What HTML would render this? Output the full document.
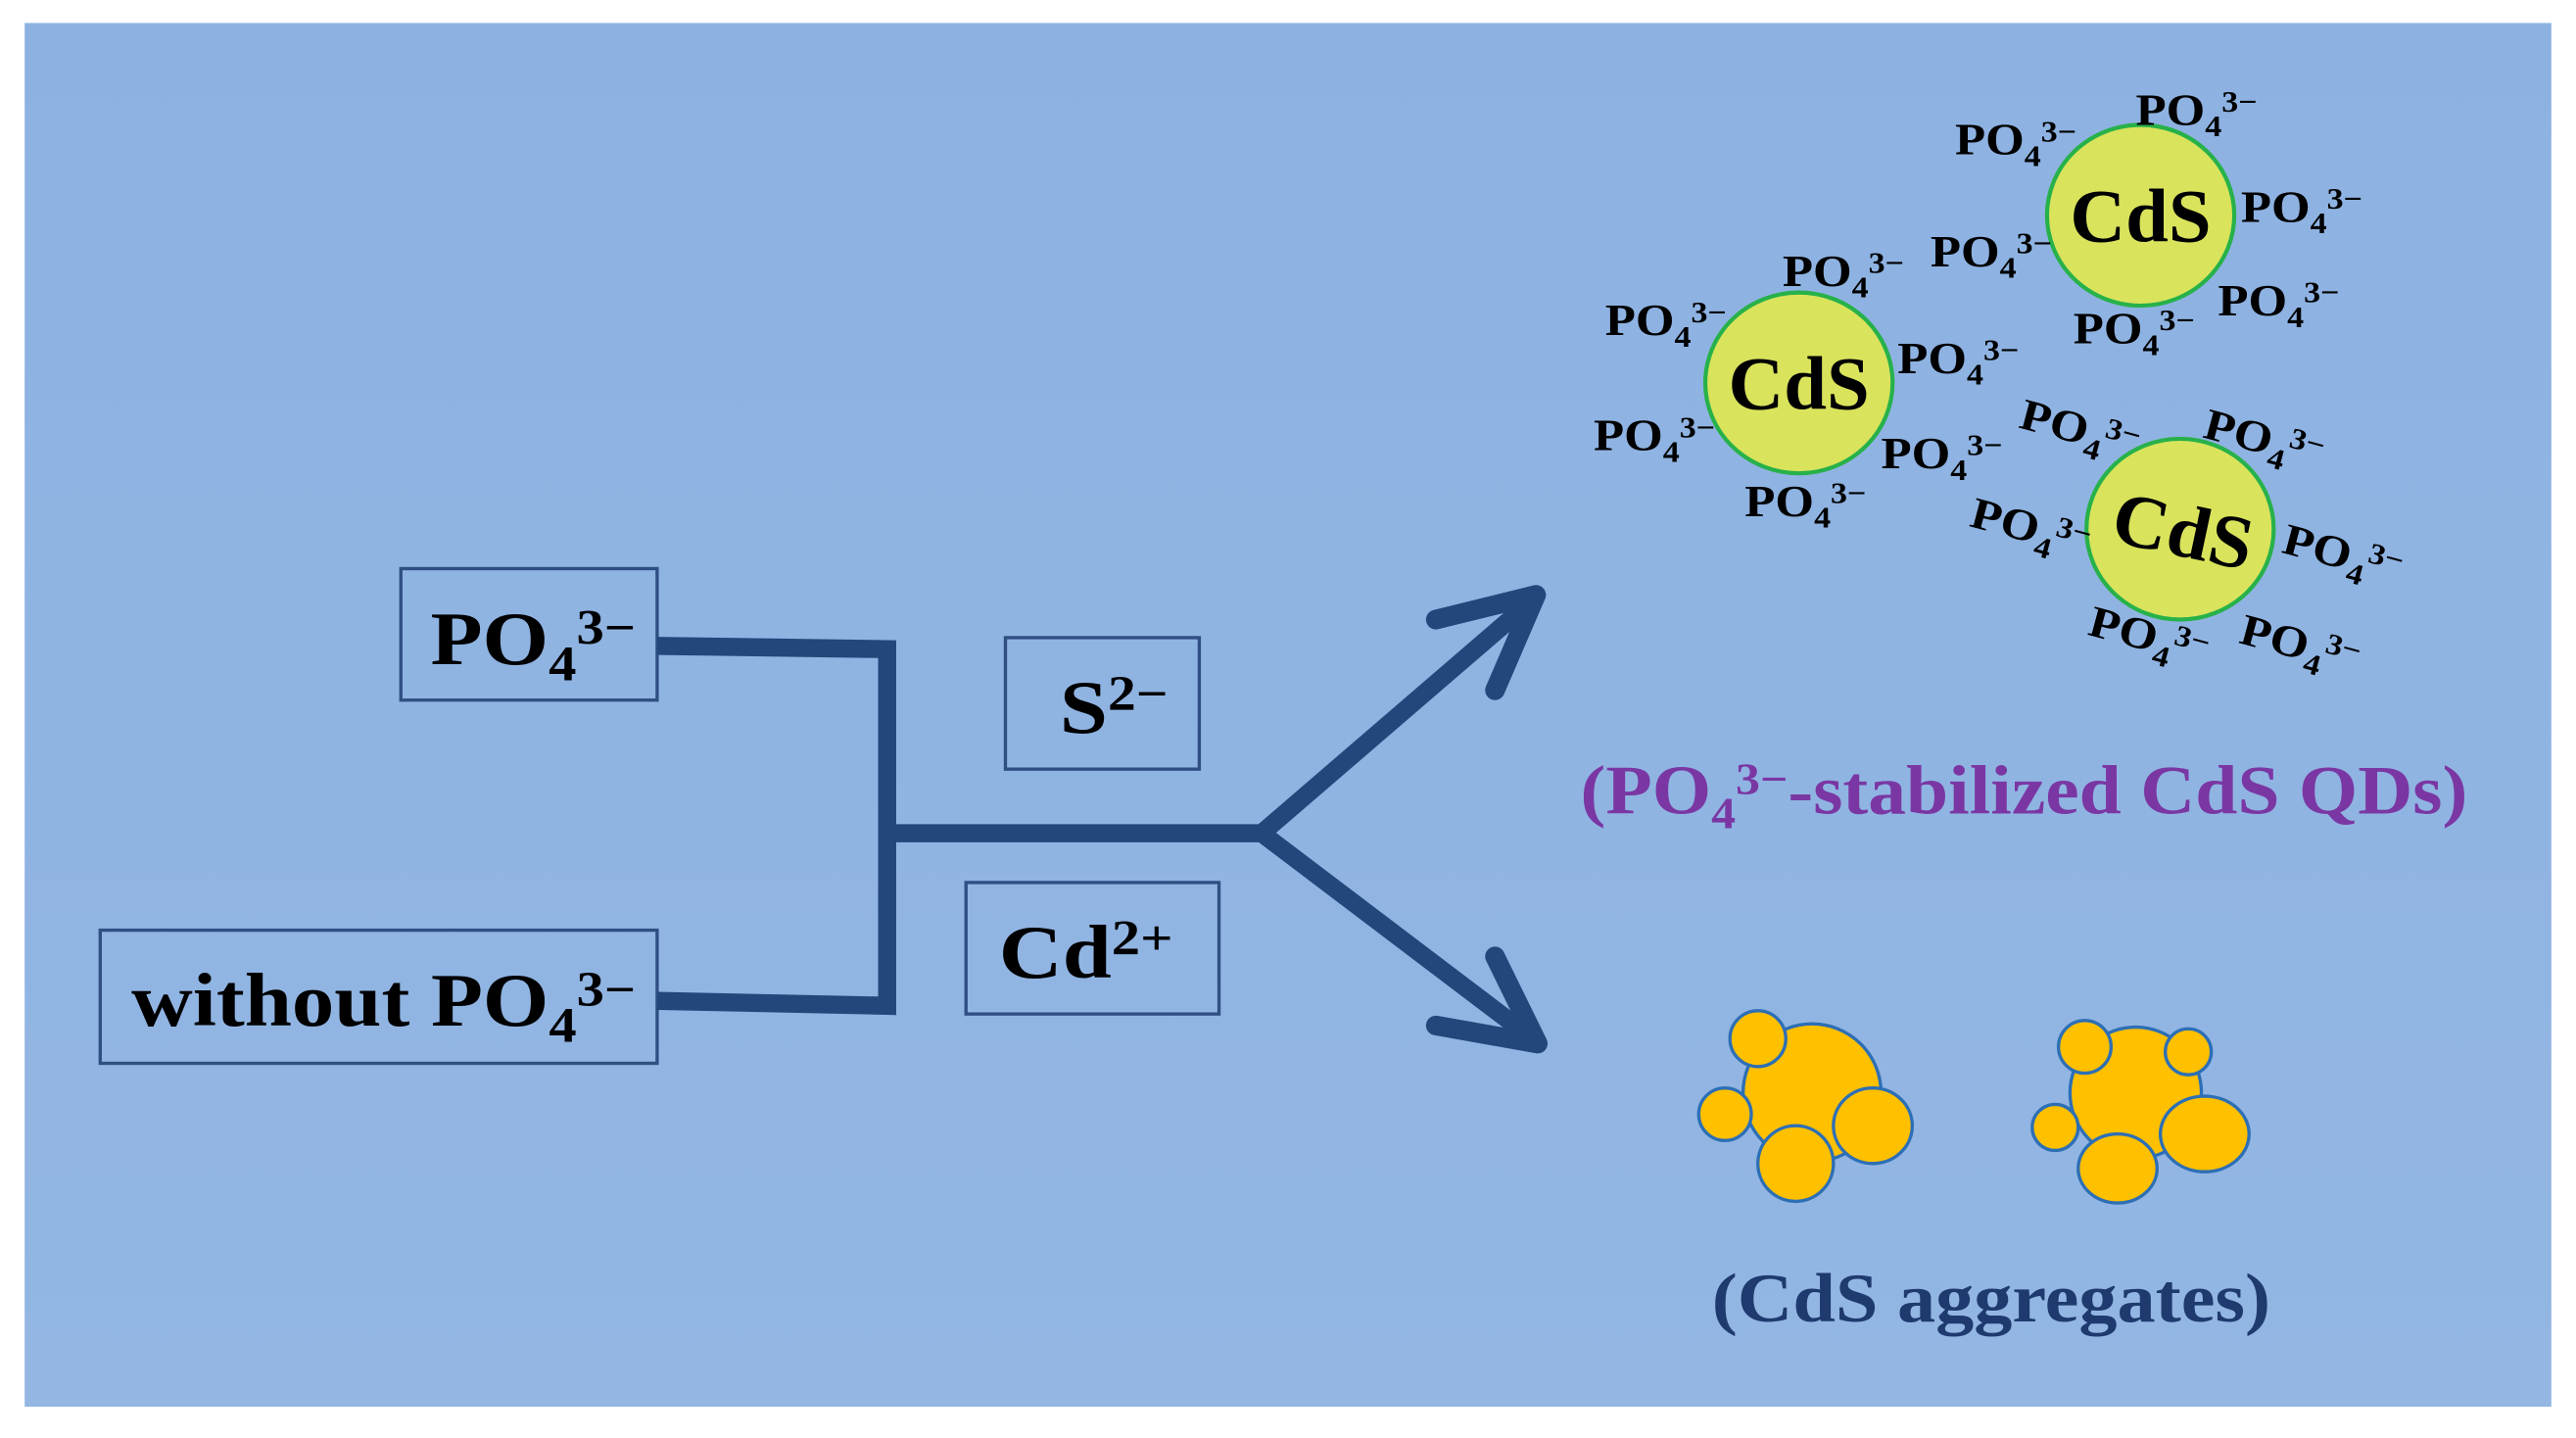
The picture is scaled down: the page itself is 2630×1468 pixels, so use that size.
<!DOCTYPE html>
<html><head><meta charset="utf-8"><style>
html,body{margin:0;padding:0;background:#fff;}
svg{display:block;}
text{font-family:"Liberation Serif",serif;font-weight:bold;fill:#000;}
</style></head><body>
<svg width="2630" height="1468" viewBox="0 0 1568 875" preserveAspectRatio="none" xmlns="http://www.w3.org/2000/svg">
<defs>
<linearGradient id="bg" x1="0" y1="0" x2="0" y2="1">
<stop offset="0" stop-color="#8db2e2"/><stop offset="1" stop-color="#93b6e3"/></linearGradient>
</defs>
<rect x="15" y="14" width="1538" height="842" fill="url(#bg)"/>

<g fill="none" stroke="#2f4f82" stroke-width="2">
<rect x="244" y="346" width="156" height="80"/>
<rect x="61" y="566" width="339" height="81"/>
<rect x="612" y="388" width="118" height="80"/>
<rect x="588" y="537" width="154" height="80"/>
</g>

<g stroke="#23477a" stroke-width="11" fill="none" stroke-linejoin="miter">
<polyline points="400,393 540,395 540,612 400,609"/>
<line x1="540" y1="507" x2="768" y2="507"/>
<line x1="768" y1="507" x2="933" y2="365"/>
<line x1="768" y1="507" x2="933" y2="632"/>
</g>
<g stroke="#23477a" stroke-width="12" fill="none" stroke-linecap="round" stroke-linejoin="round">
<polyline points="874,377 935,362 910,420"/>
<polyline points="910,582 936,635 874,624"/>
</g>

<text x="262" y="404" font-size="46" textLength="125" lengthAdjust="spacingAndGlyphs">PO<tspan font-size="30" dy="10">4</tspan><tspan font-size="30" dy="-22">3−</tspan></text>
<text x="80" y="624" font-size="46" textLength="307" lengthAdjust="spacingAndGlyphs">without PO<tspan font-size="30" dy="10">4</tspan><tspan font-size="30" dy="-22">3−</tspan></text>
<text x="645" y="446" font-size="46" textLength="66" lengthAdjust="spacingAndGlyphs">S<tspan font-size="30" dy="-14">2−</tspan></text>
<text x="608" y="595" font-size="46" textLength="106" lengthAdjust="spacingAndGlyphs">Cd<tspan font-size="30" dy="-14">2+</tspan></text>

<g fill="#d9e35c" stroke="#27b14a" stroke-width="2.5">
<ellipse cx="1095" cy="233" rx="57" ry="55"/>
<ellipse cx="1303" cy="131" rx="57" ry="55"/>
<ellipse cx="1327" cy="322" rx="57" ry="55"/>
</g>
<text x="1052" y="249" font-size="46" textLength="86" lengthAdjust="spacingAndGlyphs">CdS</text>
<text x="1260" y="147" font-size="46" textLength="86" lengthAdjust="spacingAndGlyphs">CdS</text>
<text x="1286" y="338" font-size="46" textLength="86" lengthAdjust="spacingAndGlyphs" transform="rotate(12 1327 322)">CdS</text>

<g font-size="27">
<text x="1300" y="76" textLength="74" lengthAdjust="spacingAndGlyphs">PO<tspan font-size="18" dy="7">4</tspan><tspan font-size="18" dy="-15">3−</tspan></text>
<text x="1190" y="94" textLength="74" lengthAdjust="spacingAndGlyphs">PO<tspan font-size="18" dy="7">4</tspan><tspan font-size="18" dy="-15">3−</tspan></text>
<text x="1364" y="135" textLength="74" lengthAdjust="spacingAndGlyphs">PO<tspan font-size="18" dy="7">4</tspan><tspan font-size="18" dy="-15">3−</tspan></text>
<text x="1175" y="162" textLength="74" lengthAdjust="spacingAndGlyphs">PO<tspan font-size="18" dy="7">4</tspan><tspan font-size="18" dy="-15">3−</tspan></text>
<text x="1350" y="192" textLength="74" lengthAdjust="spacingAndGlyphs">PO<tspan font-size="18" dy="7">4</tspan><tspan font-size="18" dy="-15">3−</tspan></text>
<text x="1262" y="209" textLength="74" lengthAdjust="spacingAndGlyphs">PO<tspan font-size="18" dy="7">4</tspan><tspan font-size="18" dy="-15">3−</tspan></text>
<text x="1085" y="174" textLength="74" lengthAdjust="spacingAndGlyphs">PO<tspan font-size="18" dy="7">4</tspan><tspan font-size="18" dy="-15">3−</tspan></text>
<text x="977" y="204" textLength="74" lengthAdjust="spacingAndGlyphs">PO<tspan font-size="18" dy="7">4</tspan><tspan font-size="18" dy="-15">3−</tspan></text>
<text x="1155" y="227" textLength="74" lengthAdjust="spacingAndGlyphs">PO<tspan font-size="18" dy="7">4</tspan><tspan font-size="18" dy="-15">3−</tspan></text>
<text x="970" y="274" textLength="74" lengthAdjust="spacingAndGlyphs">PO<tspan font-size="18" dy="7">4</tspan><tspan font-size="18" dy="-15">3−</tspan></text>
<text x="1145" y="285" textLength="74" lengthAdjust="spacingAndGlyphs">PO<tspan font-size="18" dy="7">4</tspan><tspan font-size="18" dy="-15">3−</tspan></text>
<text x="1062" y="314" textLength="74" lengthAdjust="spacingAndGlyphs">PO<tspan font-size="18" dy="7">4</tspan><tspan font-size="18" dy="-15">3−</tspan></text>
<text x="1228" y="260" textLength="74" lengthAdjust="spacingAndGlyphs" transform="rotate(15 1228 260)">PO<tspan font-size="18" dy="7">4</tspan><tspan font-size="18" dy="-15">3−</tspan></text>
<text x="1340" y="266" textLength="74" lengthAdjust="spacingAndGlyphs" transform="rotate(15 1340 266)">PO<tspan font-size="18" dy="7">4</tspan><tspan font-size="18" dy="-15">3−</tspan></text>
<text x="1198" y="320" textLength="74" lengthAdjust="spacingAndGlyphs" transform="rotate(15 1198 320)">PO<tspan font-size="18" dy="7">4</tspan><tspan font-size="18" dy="-15">3−</tspan></text>
<text x="1388" y="336" textLength="74" lengthAdjust="spacingAndGlyphs" transform="rotate(15 1388 336)">PO<tspan font-size="18" dy="7">4</tspan><tspan font-size="18" dy="-15">3−</tspan></text>
<text x="1270" y="386" textLength="74" lengthAdjust="spacingAndGlyphs" transform="rotate(15 1270 386)">PO<tspan font-size="18" dy="7">4</tspan><tspan font-size="18" dy="-15">3−</tspan></text>
<text x="1362" y="391" textLength="74" lengthAdjust="spacingAndGlyphs" transform="rotate(15 1362 391)">PO<tspan font-size="18" dy="7">4</tspan><tspan font-size="18" dy="-15">3−</tspan></text>
</g>

<text x="962" y="495" font-size="42" textLength="540" lengthAdjust="spacingAndGlyphs" style="fill:#7a37a3">(PO<tspan font-size="27" dy="9">4</tspan><tspan font-size="27" dy="-21">3−</tspan><tspan dy="12">-stabilized CdS QDs)</tspan></text>

<g fill="#ffc000" stroke="#2d6fb5" stroke-width="2">
<circle cx="1103" cy="665" r="42"/>
<circle cx="1070" cy="632" r="17"/>
<circle cx="1050" cy="678" r="16"/>
<circle cx="1093" cy="708" r="23"/>
<ellipse cx="1140" cy="685" rx="24" ry="23"/>
<circle cx="1300" cy="665" r="40"/>
<circle cx="1269" cy="637" r="16"/>
<circle cx="1332" cy="640" r="14"/>
<circle cx="1251" cy="686" r="14"/>
<ellipse cx="1289" cy="711" rx="24" ry="21"/>
<ellipse cx="1342" cy="690" rx="27" ry="23"/>
</g>

<text x="1042" y="804" font-size="42" textLength="340" lengthAdjust="spacingAndGlyphs" style="fill:#1f3a6e">(CdS aggregates)</text>
</svg>
</body></html>
